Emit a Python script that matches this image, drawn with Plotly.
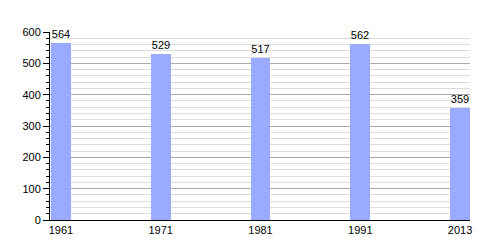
import plotly.graph_objects as go

years = ["1961", "1971", "1981", "1991", "2013"]
population = [564, 529, 517, 562, 359]
y_ticks = [0, 100, 200, 300, 400, 500, 600]

fig = go.Figure(go.Bar(
    x=years, y=population,
    marker=dict(color="#99AAFF", line=dict(width=0)),
    width=0.2,
    text=[str(v) for v in population],
    textposition="outside",
    textfont=dict(family="Liberation Sans, Arial", size=11, color="black"),
    cliponaxis=False,
))

fig.update_layout(
    width=500, height=250,
    margin=dict(l=50, r=30, t=32, b=30),
    paper_bgcolor="white", plot_bgcolor="white",
    showlegend=False,
    font=dict(family="Liberation Sans, Arial", size=11, color="black"),
    bargap=0,
)
fig.update_xaxes(
    type="category", range=[-0.11, 4.1],
    showline=True, linecolor="black", linewidth=1,
    showgrid=False, ticks="", tickfont=dict(size=11),
)
fig.update_yaxes(
    range=[0, 600], tickvals=y_ticks,
    showline=True, linecolor="black", linewidth=1,
    showgrid=True, gridcolor="#AAAAAA", gridwidth=1,
    ticks="outside", ticklen=6, tickcolor="black",
    tickfont=dict(size=11),
    zeroline=False,
    minor=dict(dtick=20, showgrid=True, gridcolor="#DDDDDD", ticks="outside", ticklen=3, tickcolor="black"),
)

fig.write_html("out.html")
